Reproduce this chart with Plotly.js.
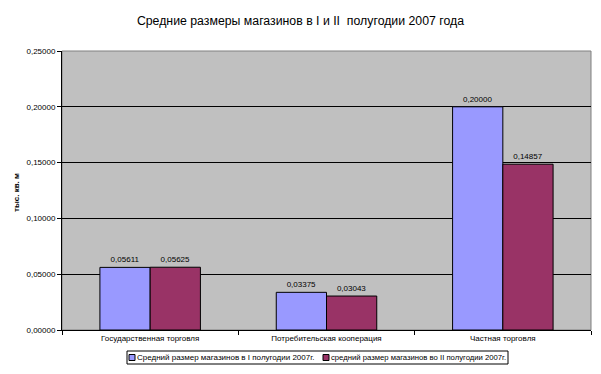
<!DOCTYPE html>
<html><head><meta charset="utf-8">
<script src="https://cdn.plot.ly/plotly-3.0.1.min.js"></script>
<style>html,body{margin:0;padding:0;background:#fff}</style>
</head><body><div id="chart" style="width:601px;height:374px"></div>
<script>
const categories = ["Государственная торговля", "Потребительская кооперация", "Частная торговля"];
const seriesNames = ["Средний размер магазинов в I полугодии 2007г.", "средний размер магазинов во II полугодии 2007г."];
const seriesColors = ['#9999FF', '#993366'];
const half1 = [0.05611, 0.03375, 0.20000];
const half2 = [0.05625, 0.03043, 0.14857];
const yTicks = [0, 0.05, 0.10, 0.15, 0.20, 0.25];

const fmt = v => v.toFixed(5).replace('.', ',');
const font = "Liberation Sans, Arial, sans-serif";

const M = {l:62, r:10, t:51, b:44};
const W = 601, H = 374;
const pw = W - M.l - M.r, ph = H - M.t - M.b;
const px = x => (x - M.l) / pw;          // pixel -> paper x
const py = y => (H - M.b - y) / ph;      // pixel -> paper y

const traces = [half1, half2].map((vals, i) => ({
  type:'bar', x:categories, y:vals, name:seriesNames[i],
  marker:{color:seriesColors[i], line:{color:'#000', width:1}},
  text:vals.map(fmt), textposition:'outside', cliponaxis:false,
  textfont:{size:8, color:'#000', family:font}
}));

// custom compact legend (Excel-style)
const legY0 = 351, legY1 = 364, legMid = (legY0 + legY1) / 2;
const legItems = [{sq:129, tx:135, fs:8}, {sq:323, tx:329, fs:7.7}];
const shapes = [
  {type:'rect', xref:'paper', yref:'paper', x0:0, x1:1, y0:0, y1:1,
   line:{color:'#808080', width:1}, fillcolor:'rgba(0,0,0,0)', layer:'below'},
  {type:'rect', xref:'paper', yref:'paper', x0:px(127), x1:px(508), y0:py(legY1), y1:py(legY0),
   line:{color:'#000', width:1}, fillcolor:'#fff'}
];
const annotations = [];
legItems.forEach((it, i) => {
  shapes.push({type:'rect', xref:'paper', yref:'paper', x0:px(it.sq), x1:px(it.sq + 6),
    y0:py(legMid + 3), y1:py(legMid - 3), line:{color:'#000', width:1}, fillcolor:seriesColors[i]});
  annotations.push({xref:'paper', yref:'paper', x:px(it.tx), y:py(legMid), xanchor:'left', yanchor:'middle',
    text:seriesNames[i], showarrow:false, font:{size:it.fs, family:font, color:'#000'}});
});

const layout = {
  width:W, height:H,
  margin:M,
  paper_bgcolor:'#fff', plot_bgcolor:'#C0C0C0',
  font:{family:font, size:8, color:'#000'},
  separators:', ',
  title:{text:'Средние размеры магазинов в I и II  полугодии 2007 года',
         font:{size:12.3, family:font, color:'#000'}, x:0.5, xanchor:'center', y:0.945, yanchor:'middle'},
  barmode:'group', bargap:0.43, bargroupgap:0,
  showlegend:false,
  xaxis:{type:'category', showline:true, linecolor:'#000', linewidth:1, automargin:false,
         ticks:'outside', tickson:'boundaries', ticklen:4, tickcolor:'#000',
         showgrid:false, tickfont:{size:8}},
  yaxis:{range:[0,0.25], tickvals:yTicks, tickformat:'.5f', automargin:false,
         showline:true, linecolor:'#000', linewidth:1, ticks:'outside', ticklen:4, tickcolor:'#000',
         showgrid:true, gridcolor:'#000', gridwidth:1, zeroline:false, tickfont:{size:8}},
  shapes:shapes,
  annotations:annotations.concat([
    {xref:'paper', yref:'paper', x:px(17), y:py(193), xanchor:'center', yanchor:'middle', textangle:-90,
     text:'<b>тыс. кв. м</b>', showarrow:false, font:{size:8, family:font, color:'#000'}}
  ])
};

Plotly.newPlot('chart', traces, layout, {staticPlot:true, displayModeBar:false});
</script></body></html>
